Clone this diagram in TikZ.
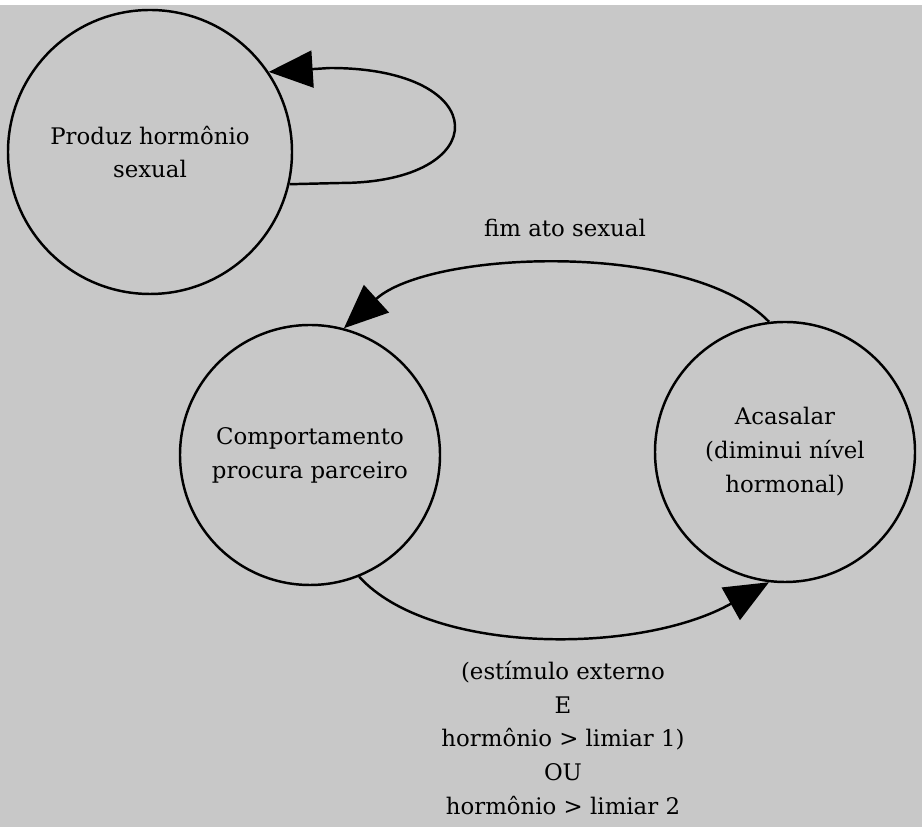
\documentclass[tikz,border=0pt]{standalone}
\usepackage{fontspec}
\setmainfont{DejaVu Serif}
\usetikzlibrary{arrows.meta}
\definecolor{fundo}{RGB}{200,200,200}

\begin{document}
\begin{tikzpicture}[
    estado/.style={draw, circle, line width=1.4pt, align=center, inner sep=0pt},
    seta/.style={line width=1.4pt, -{Triangle[length=25pt,width=21pt]}},
    texto/.style={align=center, font=\fontsize{13}{19.3}\selectfont}]
  \useasboundingbox (0,0) rectangle (18.44,16.54);
  \fill[fundo] (0,0) rectangle (18.44,16.44);
  \node[estado, texto, minimum size=5.68cm] (prod) at (3.0,13.5) {Produz hormônio\\sexual};
  \node[estado, texto, minimum size=5.2cm] (comp) at (6.2,7.44) {Comportamento\\procura parceiro};
  \node[estado, texto, minimum size=5.2cm] (acas) at (15.7,7.5) {Acasalar\\(diminui nível\\hormonal)};
  \draw[seta] (prod.-13) -- (6.8,12.88) .. controls (9.9,12.88) and (9.9,15.18) .. (6.6,15.18) -- (prod.34);
  \draw[seta] (acas.97) .. controls (13.8,11.74) and (8.6,11.54) .. (comp.75);
  \draw[seta] (comp.-68) .. controls (8.6,3.44) and (12.8,3.44) .. (acas.263);
  \node[texto] (fim) at (11.3,11.98) {fim ato sexual};
  \node[texto] (cond) at (11.26,1.78) {(estímulo externo\\E\\hormônio > limiar 1)\\OU\\hormônio > limiar 2};
\end{tikzpicture}
\end{document}
